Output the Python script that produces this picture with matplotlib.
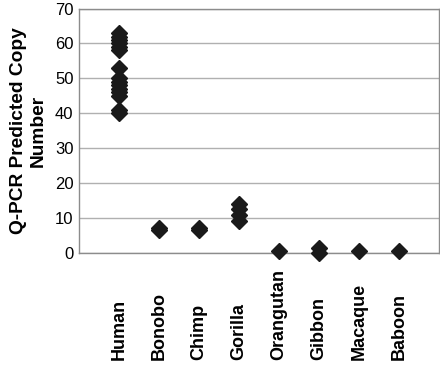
import matplotlib
matplotlib.use("Agg")
import matplotlib.pyplot as plt
from matplotlib.transforms import blended_transform_factory

plt.rcParams['font.family'] = ['Liberation Sans', 'DejaVu Sans']

categories = ["Human", "Bonobo", "Chimp", "Gorilla", "Orangutan", "Gibbon", "Macaque", "Baboon"]
human = [63, 62, 61, 60, 59, 58, 53, 50, 49, 48, 47, 46, 45, 41, 40]
bonobo = [7, 6.5]
chimp = [7, 6.5]
gorilla = [14, 12.5, 11, 9]
orangutan = [0.5]
gibbon = [1.5, 0]
macaque = [0.5]
baboon = [0.5]
series = [human, bonobo, chimp, gorilla, orangutan, gibbon, macaque, baboon]
yticks = [0, 10, 20, 30, 40, 50, 60, 70]

fig = plt.figure(figsize=(4.4, 3.73), dpi=100)
ax = fig.add_axes([0.1795, 0.322, 0.8185, 0.655])

for i, vals in enumerate(series):
    ax.plot([i + 1] * len(vals), vals, linestyle='none', marker='D',
            markersize=8, color='#1a1a1a', zorder=3, clip_on=False)

ax.set_xlim(0, 9)
ax.set_ylim(0, 70)
ax.set_yticks(yticks)
ax.set_yticklabels([str(v) for v in yticks], fontsize=12)
ax.set_xticks(range(1, 9))
ax.set_xticklabels([])
trans = blended_transform_factory(ax.transData, fig.transFigure)
for i, c in enumerate(categories):
    ax.text(i + 1, 1 - 360 / 373, c, transform=trans, rotation=90,
            ha='center', va='bottom', fontsize=13, fontweight='bold')
ax.tick_params(axis='both', length=0, pad=4)
ax.yaxis.grid(True, color='#b0b0b0', linewidth=1)
ax.set_axisbelow(True)
for s in ax.spines.values():
    s.set_color('#8c8c8c')
    s.set_linewidth(1)
ax.set_ylabel("Q-PCR Predicted Copy\nNumber", fontsize=13.8, fontweight='bold', labelpad=6)

fig.savefig("out.png", dpi=100)
